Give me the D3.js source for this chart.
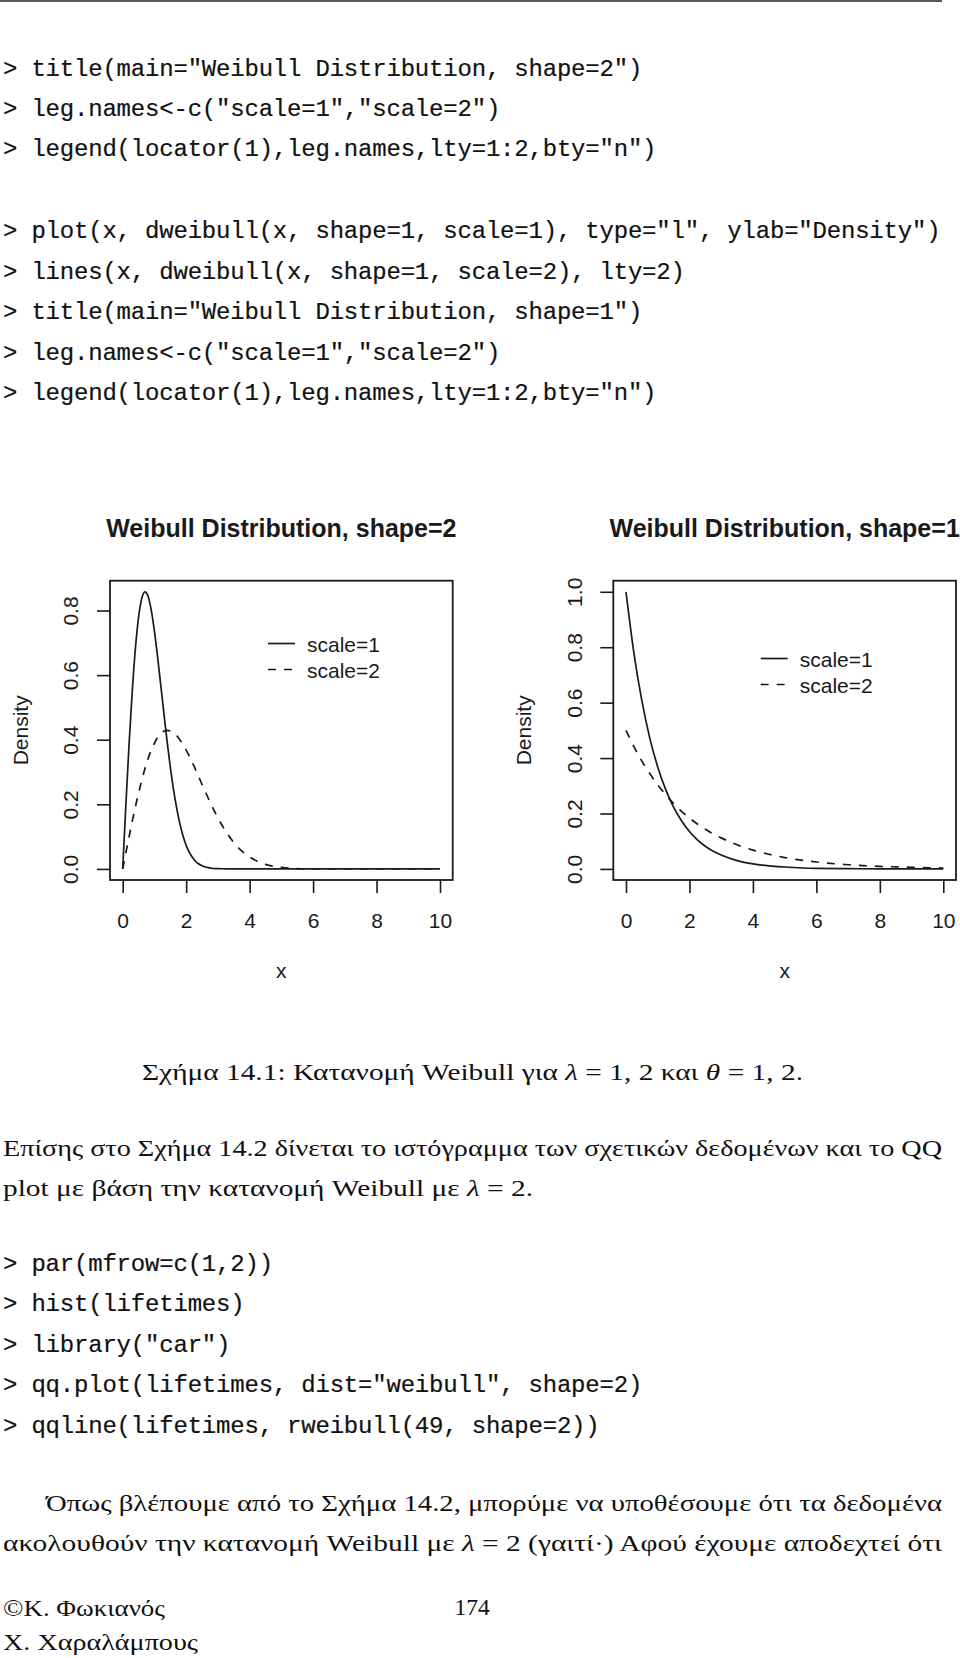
<!DOCTYPE html>
<html>
<head>
<meta charset="utf-8">
<script src="https://cdn.jsdelivr.net/npm/d3@7"></script>
<style>
  html, body { margin: 0; padding: 0; background: #fff; }
  svg { display: block; }
  .code { font-family: "Liberation Mono", "Courier New", monospace; font-size: 24px; fill: #111; stroke: #111; stroke-width: 0.2px; white-space: pre; letter-spacing: -0.2px; }
  .prose { font-family: "Liberation Serif", "Times New Roman", serif; font-size: 23.5px; fill: #111; }
  .plot text { font-family: "Liberation Sans", Arial, Helvetica, sans-serif; fill: #1a1a1a; }
</style>
</head>
<body>
<svg id="page" width="960" height="1658"></svg>
<script>
// R session lines shown above the figure
var codeTop = [
  '> title(main="Weibull Distribution, shape=2")',
  '> leg.names<-c("scale=1","scale=2")',
  '> legend(locator(1),leg.names,lty=1:2,bty="n")',
  '> plot(x, dweibull(x, shape=1, scale=1), type="l", ylab="Density")',
  '> lines(x, dweibull(x, shape=1, scale=2), lty=2)',
  '> title(main="Weibull Distribution, shape=1")',
  '> leg.names<-c("scale=1","scale=2")',
  '> legend(locator(1),leg.names,lty=1:2,bty="n")'
];
var codeBottom = [
  '> par(mfrow=c(1,2))',
  '> hist(lifetimes)',
  '> library("car")',
  '> qq.plot(lifetimes, dist="weibull", shape=2)',
  '> qqline(lifetimes, rweibull(49, shape=2))'
];

// chart data
var xTicks = [0, 2, 4, 6, 8, 10];
var legendNames = ["scale=1", "scale=2"];
var titles = ["Weibull Distribution, shape=2", "Weibull Distribution, shape=1"];

var shape2X = [0,0.1,0.2,0.3,0.4,0.5,0.6,0.7,0.8,0.9,1.0,1.1,1.2,1.3,1.4,1.5,1.6,1.7,1.8,1.9,2.0,
  2.1,2.2,2.3,2.4,2.5,2.6,2.7,2.8,2.9,3.0,3.25,3.5,3.75,4,4.5,5,5.5,6,7,8,9,10];
var shape2Scale1 = [0,0.198,0.384,0.548,0.682,0.779,0.837,0.858,0.844,0.801,0.736,0.656,0.569,0.480,0.394,0.316,
  0.247,0.189,0.141,0.103,0.073,0.051,0.035,0.023,0.015,0.010,0.006,0.004,0.002,0.001,0.001,
  0,0,0,0,0,0,0,0,0,0,0,0];
var shape2Scale2 = [0,0.050,0.099,0.147,0.192,0.235,0.274,0.310,0.341,0.368,0.389,0.407,0.419,0.426,0.429,0.427,
  0.422,0.413,0.400,0.385,0.368,0.349,0.328,0.307,0.284,0.262,0.240,0.218,0.197,0.177,0.158,
  0.116,0.082,0.056,0.037,0.014,0.005,0.001,0,0,0,0,0];
var shape2YTicks = [0, 0.2, 0.4, 0.6, 0.8];

var shape1X = [0,0.25,0.5,0.75,1,1.25,1.5,1.75,2,2.25,2.5,2.75,3,3.5,4,4.5,5,6,7,8,9,10];
var shape1Scale1 = [1,0.779,0.607,0.472,0.368,0.287,0.223,0.174,0.135,0.105,0.082,0.064,0.050,0.030,0.018,0.011,0.007,0.002,0.001,0,0,0];
var shape1Scale2 = [0.5,0.441,0.389,0.344,0.303,0.268,0.236,0.208,0.184,0.162,0.143,0.126,0.112,0.087,0.068,0.053,0.041,0.025,0.015,0.009,0.006,0.003];
var shape1YTicks = [0, 0.2, 0.4, 0.6, 0.8, 1.0];

var svg = d3.select("#page");
svg.append("rect").attr("width", 960).attr("height", 1658).attr("fill", "#fff");

// header rule
svg.append("line").attr("x1", 0).attr("x2", 942).attr("y1", 1).attr("y2", 1)
  .attr("stroke", "#222").attr("stroke-width", 1.6);

// code blocks
function codeBlock(lines, baselines) {
  svg.append("g").selectAll("text").data(lines).enter().append("text")
    .attr("class", "code")
    .attr("x", 3)
    .attr("y", function(d, i) { return baselines[i]; })
    .text(function(d) { return d; });
}
codeBlock(codeTop, [76, 116, 156, 238, 278.5, 319, 359.5, 400]);
codeBlock(codeBottom, [1270.5, 1311, 1351.5, 1392, 1432.5]);

// pad range like R does (4%)
function rPad(ext) {
  var d = ext[1] - ext[0];
  return [ext[0] - 0.04 * d, ext[1] + 0.04 * d];
}

var boxTop = 580.7, boxBottom = 880;

function drawPanel(o) {
  var g = svg.append("g").attr("class", "plot");
  var allY = d3.merge(o.series.map(function(s) { return s.y; }));
  var x = d3.scaleLinear().domain(rPad(d3.extent(o.xs))).range([o.left, o.right]);
  var y = d3.scaleLinear().domain(rPad([0, d3.max(allY)])).range([boxBottom, boxTop]);

  // x axis
  var xa = g.append("g").attr("transform", "translate(0," + boxBottom + ")")
    .call(d3.axisBottom(x).tickValues(xTicks).tickSize(13).tickSizeOuter(0).tickPadding(20));
  xa.select(".domain").remove();
  xa.selectAll("line").attr("stroke", "#1a1a1a").attr("stroke-width", 1.6);
  xa.selectAll("text").attr("font-size", 21).attr("fill", "#1a1a1a");

  // y axis with rotated labels
  var ya = g.append("g").attr("transform", "translate(" + o.left + ",0)")
    .call(d3.axisLeft(y).tickValues(o.yTicks).tickFormat(d3.format(".1f")).tickSize(13).tickSizeOuter(0));
  ya.select(".domain").remove();
  ya.selectAll("line").attr("stroke", "#1a1a1a").attr("stroke-width", 1.6);
  ya.selectAll("text")
    .attr("x", null).attr("dy", null)
    .attr("text-anchor", "middle")
    .attr("font-size", 21).attr("fill", "#1a1a1a")
    .attr("transform", "translate(" + (-o.labOff) + ",0) rotate(-90)");

  // box
  g.append("rect").attr("x", o.left).attr("y", boxTop)
    .attr("width", o.right - o.left).attr("height", boxBottom - boxTop)
    .attr("fill", "none").attr("stroke", "#1a1a1a").attr("stroke-width", 1.8);

  // curves
  var line = d3.line()
    .x(function(d) { return x(d[0]); })
    .y(function(d) { return y(d[1]); })
    .curve(d3.curveMonotoneX);
  o.series.forEach(function(s) {
    g.append("path")
      .datum(d3.zip(o.xs, s.y))
      .attr("d", line)
      .attr("fill", "none")
      .attr("stroke", "#1a1a1a")
      .attr("stroke-width", 1.7)
      .attr("stroke-dasharray", s.dash ? "8,8" : null);
  });

  var cx = (o.left + o.right) / 2;
  g.append("text").attr("x", cx).attr("y", 536.5).attr("text-anchor", "middle")
    .attr("font-size", 25).attr("font-weight", "bold").text(o.title);
  g.append("text").attr("x", cx).attr("y", 978).attr("text-anchor", "middle")
    .attr("font-size", 21).text("x");
  g.append("text").attr("text-anchor", "middle").attr("font-size", 21)
    .attr("transform", "translate(" + (o.left - 82) + "," + ((boxTop + boxBottom) / 2) + ") rotate(-90)")
    .text("Density");

  // legend (bty="n")
  var lg = g.append("g").attr("transform", "translate(" + o.legendX + "," + o.legendY + ")");
  legendNames.forEach(function(name, i) {
    lg.append("line").attr("x1", 0).attr("x2", 27).attr("y1", i * 26).attr("y2", i * 26)
      .attr("stroke", "#1a1a1a").attr("stroke-width", 1.7)
      .attr("stroke-dasharray", i === 1 ? "8,8" : null);
    lg.append("text").attr("x", 39).attr("y", i * 26 + 8).attr("font-size", 21).text(name);
  });
}

drawPanel({
  left: 110, right: 452.7, labOff: 32, title: titles[0],
  xs: shape2X, yTicks: shape2YTicks,
  series: [{ y: shape2Scale1, dash: false }, { y: shape2Scale2, dash: true }],
  legendX: 268, legendY: 643.5
});
drawPanel({
  left: 613.3, right: 956, labOff: 31, title: titles[1],
  xs: shape1X, yTicks: shape1YTicks,
  series: [{ y: shape1Scale1, dash: false }, { y: shape1Scale2, dash: true }],
  legendX: 760.7, legendY: 658.5
});

// caption and running text
function prose(parts, x, yb, width, extra) {
  var t = svg.append("text").attr("class", "prose").attr("x", x).attr("y", yb);
  if (width) t.attr("textLength", width).attr("lengthAdjust", "spacingAndGlyphs");
  if (extra) t.attr("text-anchor", extra);
  parts.forEach(function(p) {
    var s = t.append("tspan").text(typeof p === "string" ? p : p.t);
    if (typeof p !== "string") s.attr("font-style", "italic");
  });
  return t;
}

prose(["Σχήμα 14.1: Κατανομή Weibull για ", { t: "λ" }, " = 1, 2 και ", { t: "θ" }, " = 1, 2."], 142, 1080, 661);
prose(["Επίσης στο Σχήμα 14.2 δίνεται το ιστόγραμμα των σχετικών δεδομένων και το QQ"], 3, 1156, 939);
prose(["plot με βάση την κατανομή Weibull με ", { t: "λ" }, " = 2."], 3, 1196, 530);
prose(["Όπως βλέπουμε από το Σχήμα 14.2, μπορύμε να υποθέσουμε ότι τα δεδομένα"], 46, 1510.5, 896);
prose(["ακολουθούν την κατανομή Weibull με ", { t: "λ" }, " = 2 (γαιτί·) Αφού έχουμε αποδεχτεί ότι"], 3, 1551, 939);
prose(["©Κ. Φωκιανός"], 3, 1616, 162);
prose(["174"], 472, 1615, null, "middle");
prose(["Χ. Χαραλάμπους"], 3, 1650, 195);
</script>
</body>
</html>
